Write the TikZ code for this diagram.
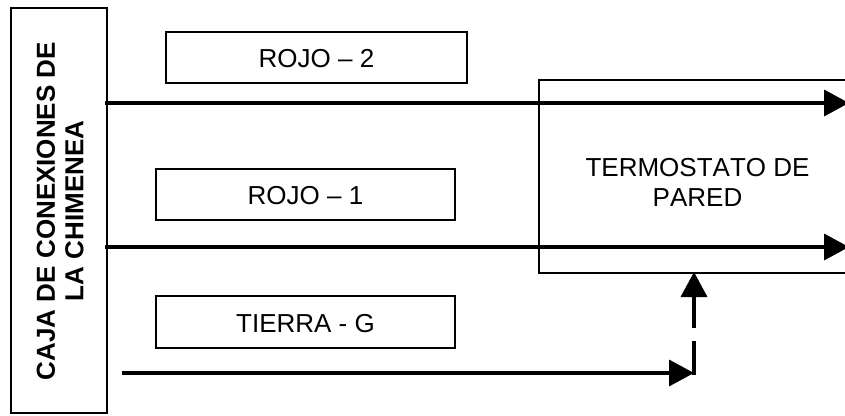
\documentclass[tikz,border=0pt]{standalone}
\usepackage{fontspec}
\setmainfont[Kerning=Off]{Liberation Sans}
\usetikzlibrary{arrows.meta}
\tikzset{
  x=1pt,y=-1pt,
  label box/.style={draw=black,line width=1.6pt,inner sep=0pt,font=\fontsize{26}{30}\selectfont,align=center,text height=19.6pt,text depth=0pt},
  wire/.style={line width=3.6pt,draw=black,-{Triangle[length=25pt,width=26pt]}},
  plain wire/.style={line width=3.6pt,draw=black},
}
\begin{document}
\begin{tikzpicture}
\useasboundingbox (0,0) rectangle (845,415);
\clip (0,0) rectangle (845,415);
\fill[white] (0,0) rectangle (845,415);
% boxes
\node[draw=black,line width=2pt,minimum width=96pt,minimum height=405pt] (caja) at (59,210.5) {};
\node[font=\bfseries\fontsize{26}{28.5}\selectfont,align=center,rotate=90] (cajat) at (60.25,211) {CAJA DE CONEXIONES DE\\LA CHIMENEA};
\node[label box,minimum width=301pt,minimum height=51pt] (r2) at (316.5,57.5) {ROJO -- 2};
\node[label box,minimum width=299pt,minimum height=51pt] (r1) at (305.5,194.5) {ROJO -- 1};
\node[label box,minimum width=299pt,minimum height=52pt,text height=20.6pt] (tg) at (305.5,322) {TIERRA - G};
\node[draw=black,line width=1.6pt,minimum width=308pt,minimum height=193pt] (term) at (693,176.5) {};
\node[font=\fontsize{26}{30}\selectfont,align=center] (termt) at (697.5,182.5) {TERMOSTATO DE\\PARED};
% connectors
\coordinate (a1) at (105,103); \coordinate (b1) at (849,103);
\coordinate (a2) at (105,247); \coordinate (b2) at (849,247);
\coordinate (a3) at (122,373); \coordinate (b3) at (694,373);
\coordinate (g1) at (694,341); \coordinate (g2) at (694,328);
\coordinate (b4) at (694,272);
\draw[wire] (a1) -- (b1);
\draw[wire] (a2) -- (b2);
\draw[wire] (a3) -- (b3);
\draw[plain wire] (b3) ++(0,1.8) -- (g1);
\draw[wire] (g2) -- (b4);
\end{tikzpicture}
\end{document}
